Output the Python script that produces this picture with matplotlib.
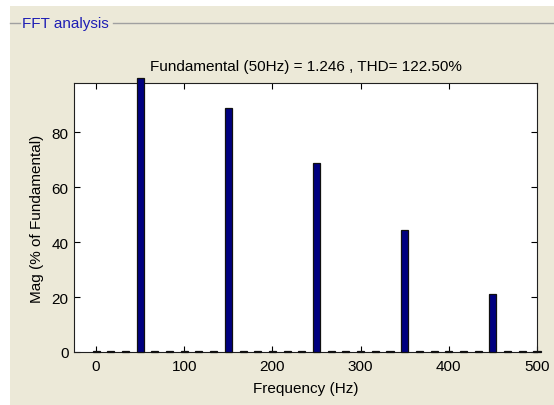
import matplotlib
matplotlib.use("Agg")
import matplotlib.pyplot as plt
from matplotlib.lines import Line2D
from matplotlib.patches import Rectangle

plt.rcParams['font.family'] = ['Liberation Sans', 'DejaVu Sans']

# harmonic frequencies (Hz), resolution 50/3 Hz
freqs = [0, 16.67, 33.33, 50, 66.67, 83.33, 100, 116.67, 133.33, 150,
         166.67, 183.33, 200, 216.67, 233.33, 250, 266.67, 283.33, 300,
         316.67, 333.33, 350, 366.67, 383.33, 400, 416.67, 433.33, 450,
         466.67, 483.33, 500]
# magnitude in % of fundamental
mags = [0.4, 0.4, 0.4, 100, 0.4, 0.4, 0.4, 0.4, 0.4, 89.0,
        0.4, 0.4, 0.4, 0.4, 0.4, 68.7, 0.4, 0.4, 0.4,
        0.4, 0.4, 44.3, 0.4, 0.4, 0.4, 0.4, 0.4, 21.0,
        0.4, 0.4, 0.4]

title = "Fundamental (50Hz) = 1.246 , THD= 122.50%"
W, H = 554, 406
fs = 11

fig = plt.figure(figsize=(W / 100, H / 100), dpi=100, facecolor='white')

# beige panel background
fig.add_artist(Rectangle((10 / W, 0), 1 - 10 / W, (H - 7) / H,
                         transform=fig.transFigure, facecolor='#ECE9D8',
                         edgecolor='none', zorder=0))
# group box line and title
yl = (H - 24) / H
fig.add_artist(Line2D([10 / W, 20 / W], [yl, yl], color='#A0A0A0', lw=1))
fig.add_artist(Line2D([113 / W, 1], [yl, yl], color='#A0A0A0', lw=1))
fig.text(22 / W, yl, "FFT analysis", color='#1E1EB4', fontsize=fs,
         va='center', ha='left')

ax = fig.add_axes([74 / W, (H - 353) / H, (537 - 74) / W, (353 - 84) / H])
ax.bar(freqs, mags, width=8, color='#000080', edgecolor='#101010',
       linewidth=0.9, clip_on=False, zorder=3)

ax.set_xlim(-25, 500)
ax.set_ylim(0, 98)
ax.set_xticks([0, 100, 200, 300, 400, 500])
ax.set_yticks([0, 20, 40, 60, 80])
ax.tick_params(direction='in', length=4, top=True, right=True,
               labelsize=fs)
ax.tick_params(axis='x', pad=5)
ax.tick_params(axis='y', pad=4)
for s in ax.spines.values():
    s.set_color('#202020')
    s.set_linewidth(0.8)

ax.set_title(title, fontsize=fs, pad=9)
ax.set_xlabel("Frequency (Hz)", fontsize=fs, labelpad=6)
ax.set_ylabel("Mag (% of Fundamental)", fontsize=fs, labelpad=5)

fig.savefig("out.png", dpi=100, facecolor=fig.get_facecolor())
